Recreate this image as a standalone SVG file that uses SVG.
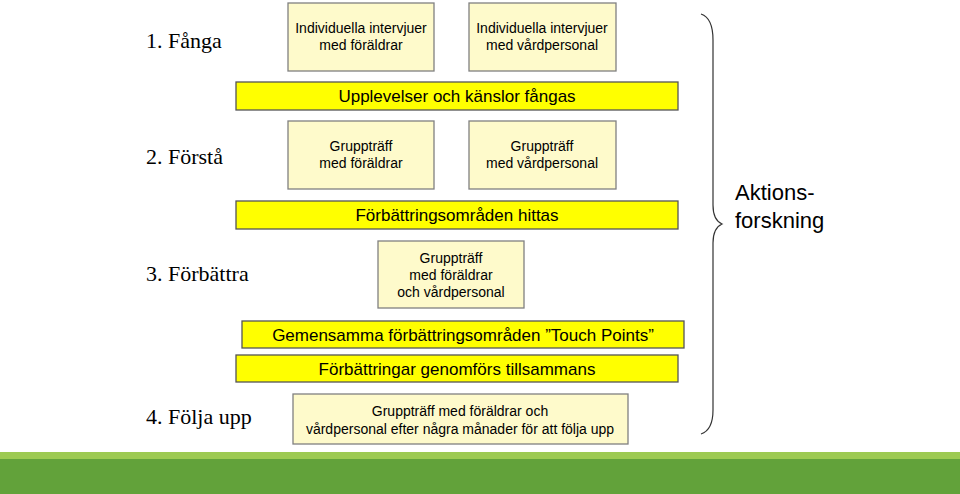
<svg xmlns="http://www.w3.org/2000/svg" width="960" height="494" viewBox="0 0 960 494">
<style>
.b{fill:#fefacb;stroke:#808080;stroke-width:1.3}
.y{fill:#ffff00;stroke:#555;stroke-width:1.3}
.t{font-family:"Liberation Sans",Arial,sans-serif;font-size:14px;fill:#000;text-anchor:middle}
.tl{font-family:"Liberation Sans",Arial,sans-serif;font-size:17px;fill:#000;text-anchor:middle}
.s{font-family:"Liberation Serif","Times New Roman",serif;font-size:22px;fill:#000}
</style>
<rect width="960" height="494" fill="#fff"/>
<rect x="0" y="452" width="960" height="7" fill="#9dca52"/>
<rect x="0" y="459" width="960" height="35" fill="#62a23a"/>
<g id="labels">
<text class="s" x="146" y="48">1. Fånga</text>
<text class="s" x="146" y="164">2. Förstå</text>
<text class="s" x="146" y="281">3. Förbättra</text>
<text class="s" x="146" y="424">4. Följa upp</text>
</g>
<g id="n1"><rect class="b" x="288" y="3" width="146" height="68"/><text class="t" x="361" y="33">Individuella intervjuer</text><text class="t" x="361" y="50">med föräldrar</text></g>
<g id="n2"><rect class="b" x="469" y="3" width="147" height="68"/><text class="t" x="542" y="33">Individuella intervjuer</text><text class="t" x="542" y="50">med vårdpersonal</text></g>
<g id="y1"><rect class="y" x="236" y="82" width="442" height="28"/><text class="tl" x="457" y="102">Upplevelser och känslor fångas</text></g>
<g id="n3"><rect class="b" x="288" y="121" width="146" height="68"/><text class="t" x="361" y="151">Gruppträff</text><text class="t" x="361" y="168">med föräldrar</text></g>
<g id="n4"><rect class="b" x="469" y="121" width="147" height="68"/><text class="t" x="542" y="151">Gruppträff</text><text class="t" x="542" y="168">med vårdpersonal</text></g>
<g id="y2"><rect class="y" x="236" y="201" width="442" height="28"/><text class="tl" x="457" y="221">Förbättringsområden hittas</text></g>
<g id="n5"><rect class="b" x="378" y="241" width="146" height="67"/><text class="t" x="451" y="263">Gruppträff</text><text class="t" x="451" y="280">med föräldrar</text><text class="t" x="451" y="297">och vårdpersonal</text></g>
<g id="y3"><rect class="y" x="242" y="321" width="442" height="27"/><text class="tl" x="463" y="341">Gemensamma förbättringsområden ”Touch Points”</text></g>
<g id="y4"><rect class="y" x="236" y="355" width="442" height="27"/><text class="tl" x="457" y="375">Förbättringar genomförs tillsammans</text></g>
<g id="n6"><rect class="b" x="293" y="394" width="335" height="50"/><text class="t" x="460" y="416">Gruppträff med föräldrar och</text><text class="t" x="460" y="434">vårdpersonal efter några månader för att följa upp</text></g>
<g id="connectors">
<path d="M701 14 Q713 18 713 40 L713 205 Q713 220 722 224 Q713 228 713 243 L713 410 Q713 430 701 434" fill="none" stroke="#333" stroke-width="1.2"/>
</g>
<g id="brace-label">
<text font-family="Liberation Sans,Arial,sans-serif" font-size="22" x="735" y="200">Aktions-</text>
<text font-family="Liberation Sans,Arial,sans-serif" font-size="22" x="735" y="228">forskning</text>
</g>
</svg>
